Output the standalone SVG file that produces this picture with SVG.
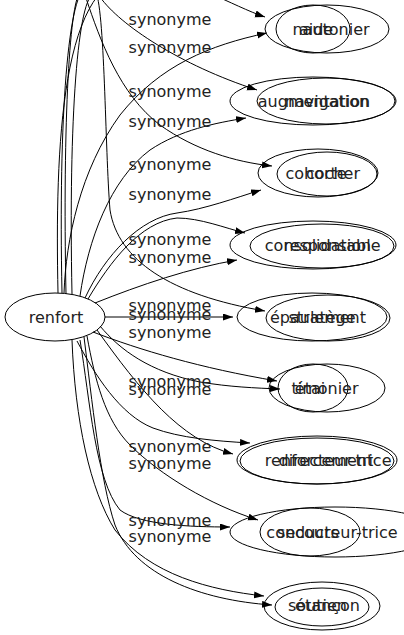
<svg xmlns="http://www.w3.org/2000/svg" width="404" height="635" viewBox="0 0 404 635">
<style>
  .n ellipse { fill: none; stroke: #000; stroke-width: 1; }
  text { font-family: "DejaVu Sans", "Liberation Sans", sans-serif; font-size: 16px; fill: #222; text-anchor: middle; }
  .e path { fill: none; stroke: #000; stroke-width: 1; marker-end: url(#ah); }
</style>
<defs>
  <marker id="ah" markerUnits="userSpaceOnUse" markerWidth="11" markerHeight="8" refX="10" refY="3.5" orient="auto">
    <path d="M0,0 L10,3.5 L0,7 z" fill="#000"/>
  </marker>
</defs>
<rect width="404" height="635" fill="#fff"/>
<g id="connectors" class="e">
  <path d="M58,293 C55,150 60,-30 140,-25 C190,-22 232,6 265,17"/>
  <path d="M64,293 C66,240 80,170 120,115 C160,65 210,45 267,33"/>
  <path d="M72,294 C68,100 80,-30 100,-3 C120,25 180,65 257,90"/>
  <path d="M80,296 C88,240 110,180 150,150 C180,130 215,123 246,118"/>
  <path d="M66,294 C62,100 72,-40 86,-2 C100,40 120,95 160,125 C195,150 235,162 272,166"/>
  <path d="M85,298 C105,255 140,218 177,213 C205,209 235,198 261,190"/>
  <path d="M88,299 C110,262 140,222 177,218 C200,218 225,228 245,233"/>
  <path d="M95,303 C140,285 190,268 237,260"/>
  <path d="M62,293 C58,100 70,-40 95,-10 C105,5 105,150 110,210 C118,260 170,295 265,311"/>
  <path d="M105,317 L233,317"/>
  <path d="M93,332 C140,350 200,368 277,381"/>
  <path d="M100,326 C120,350 150,372 200,382 C230,387 255,388 280,389"/>
  <path d="M77,341 C95,375 120,415 153,428 C180,438 215,441 250,443"/>
  <path d="M97,330 C140,390 180,440 233,454"/>
  <path d="M87,336 C95,380 105,420 130,445 C160,475 210,505 258,520"/>
  <path d="M80,340 C90,400 95,480 120,510 C140,525 190,527 230,527"/>
  <path d="M72,340 C75,420 90,490 115,530 C150,575 210,590 264,596"/>
  <path d="M84,337 C92,400 100,480 115,525 C135,575 200,600 272,605"/>
  <g id="edge-labels">
    <text x="170" y="25">synonyme</text>
    <text x="170" y="53">synonyme</text>
    <text x="170" y="97">synonyme</text>
    <text x="170" y="127">synonyme</text>
    <text x="170" y="170">synonyme</text>
    <text x="170" y="200">synonyme</text>
    <text x="170" y="245">synonyme</text>
    <text x="170" y="263">synonyme</text>
    <text x="170" y="311">synonyme</text>
    <text x="170" y="320">synonyme</text>
    <text x="170" y="338">synonyme</text>
    <text x="170" y="387">synonyme</text>
    <text x="170" y="395">synonyme</text>
    <text x="170" y="452">synonyme</text>
    <text x="170" y="469">synonyme</text>
    <text x="170" y="526">synonyme</text>
    <text x="170" y="542">synonyme</text>
  </g>
</g>
<g id="node-renfort" class="n"><ellipse cx="55" cy="317" rx="50" ry="24"/><text x="56" y="322.5">renfort</text></g>
<g id="node-aide" class="n"><ellipse cx="313" cy="29" rx="37" ry="24"/><text x="316" y="34.5">aide</text></g>
<g id="node-nautonier" class="n"><ellipse cx="327" cy="29" rx="62" ry="24"/><text x="331" y="34.5">nautonier</text></g>
<g id="node-augmentation" class="n"><ellipse cx="313" cy="101" rx="83" ry="24"/><text x="314" y="106.5">augmentation</text></g>
<g id="node-navigation" class="n"><ellipse cx="326" cy="101" rx="69" ry="23"/><text x="327" y="106.5">navigation</text></g>
<g id="node-cohorte" class="n"><ellipse cx="318" cy="173" rx="60" ry="24"/><text x="316" y="178.5">cohorte</text></g>
<g id="node-cocher" class="n"><ellipse cx="327" cy="174" rx="50" ry="22"/><text x="333" y="178.5">cocher</text></g>
<g id="node-consolidation" class="n"><ellipse cx="313" cy="245" rx="83" ry="24"/><text x="318" y="250.5">consolidation</text></g>
<g id="node-responsable" class="n"><ellipse cx="322" cy="246" rx="72" ry="22"/><text x="332" y="250.5">responsable</text></g>
<g id="node-epaulement" class="n"><ellipse cx="312" cy="317" rx="75" ry="24"/><text x="318" y="322.5">épaulement</text></g>
<g id="node-stratege" class="n"><ellipse cx="328" cy="318" rx="62" ry="23"/><text x="322" y="322.5">stratège</text></g>
<g id="node-etai" class="n"><ellipse cx="313" cy="388" rx="35" ry="24"/><text x="310" y="393.5">étai</text></g>
<g id="node-timonier" class="n"><ellipse cx="327" cy="388" rx="58" ry="24"/><text x="325" y="393.5">timonier</text></g>
<g id="node-renforcement" class="n"><ellipse cx="317" cy="460" rx="80" ry="24"/><text x="319" y="465.5">renforcement</text></g>
<g id="node-directeur-trice" class="n"><ellipse cx="317" cy="461" rx="77" ry="23"/><text x="335" y="465.5">directeur-trice</text></g>
<g id="node-secours" class="n"><ellipse cx="310" cy="532" rx="50" ry="24"/><text x="308" y="537.5">secours</text></g>
<g id="node-conducteur-trice" class="n"><ellipse cx="335" cy="532" rx="105" ry="25"/><text x="332" y="537.5">conducteur-trice</text></g>
<g id="node-soutien" class="n"><ellipse cx="322" cy="607" rx="47" ry="19"/><text x="317.5" y="610.5">soutien</text></g>
<g id="node-etancon" class="n"><ellipse cx="322" cy="606" rx="58" ry="24"/><text x="327.5" y="610.5">étançon</text></g>
</svg>
